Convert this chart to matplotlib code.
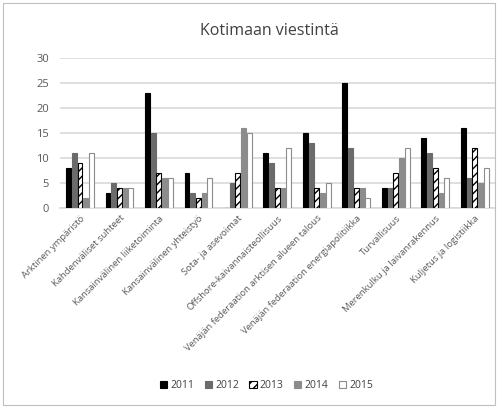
import matplotlib
matplotlib.use("Agg")
import matplotlib.pyplot as plt
import numpy as np
from matplotlib.patches import Rectangle

categories = ["Arktinen ympäristö", "Kahdenväliset suhteet", "Kansainvälinen liiketoiminta",
              "Kansainvälinen yhteistyö", "Sota- ja asevoimat", "Offshore-kaivannaisteollisuus",
              "Venäjän federaation arktisen alueen talous", "Venäjän federaation energiapolitiikka",
              "Turvallisuus", "Merenkulku ja laivanrakennus", "Kuljetus ja logistiikka"]
years = ["2011", "2012", "2013", "2014", "2015"]
v2011 = [8, 3, 23, 7, 0, 11, 15, 25, 4, 14, 16]
v2012 = [11, 5, 15, 3, 5, 9, 13, 12, 4, 11, 6]
v2013 = [9, 4, 7, 2, 7, 4, 4, 4, 7, 8, 12]
v2014 = [2, 4, 6, 3, 16, 4, 3, 4, 10, 3, 5]
v2015 = [11, 4, 6, 6, 15, 12, 5, 2, 12, 6, 8]
series = [v2011, v2012, v2013, v2014, v2015]
title = "Kotimaan viestintä"

plt.rcParams['font.family'] = ['Open Sans', 'DejaVu Sans']
plt.rcParams['hatch.linewidth'] = 1.0

fig = plt.figure(figsize=(4.98, 4.08), dpi=100)
fig.patches.append(Rectangle((0.006, 0.007), 0.988, 0.986, transform=fig.transFigure,
                             fill=False, edgecolor='#bfbfbf', linewidth=0.8))
ax = fig.add_axes([0.121, 0.490, 0.872, 0.368])

styles = [
    dict(color='#000000', edgecolor='#000000'),
    dict(color='#6b6b6b', edgecolor='#6b6b6b'),
    dict(color='white', edgecolor='#000000', hatch='////'),
    dict(color='#8c8c8c', edgecolor='#8c8c8c'),
    dict(color='white', edgecolor='#8c8c8c'),
]
x = np.arange(len(categories))
bw = 0.125
gap = 0.02
for i, (vals, st) in enumerate(zip(series, styles)):
    off = (i - 2) * (bw + gap)
    ax.bar(x + off, vals, bw, label=years[i], linewidth=0.8, zorder=3, **st)

ax.set_xlim(-0.5, len(categories) - 0.5)
ax.set_ylim(0, 30)
ax.set_yticks([0, 5, 10, 15, 20, 25, 30])
ax.grid(axis='y', color='#d9d9d9', linewidth=1.2, zorder=0)
for s in ['top', 'right', 'left']:
    ax.spines[s].set_visible(False)
ax.spines['bottom'].set_color('#d9d9d9')
ax.spines['bottom'].set_linewidth(1.2)
ax.tick_params(axis='both', length=0, labelsize=7.5, colors='#595959')
ax.set_xticks(x)
ax.set_xticklabels(categories, rotation=45, ha='right', rotation_mode='anchor', fontsize=6.8)
ax.tick_params(axis='x', pad=4)
ax.tick_params(axis='y', pad=8, labelsize=8)

fig.text(0.54, 0.925, title, ha='center', va='center', fontsize=11.5, color='#404040')

leg = fig.legend(loc='center', bbox_to_anchor=(0.535, 0.055), ncol=5, frameon=False,
                 fontsize=7.5, handlelength=0.7, handleheight=0.7, handletextpad=0.3,
                 columnspacing=1.0)
for t in leg.get_texts():
    t.set_color('#404040')

fig.savefig("out.png", dpi=100)
